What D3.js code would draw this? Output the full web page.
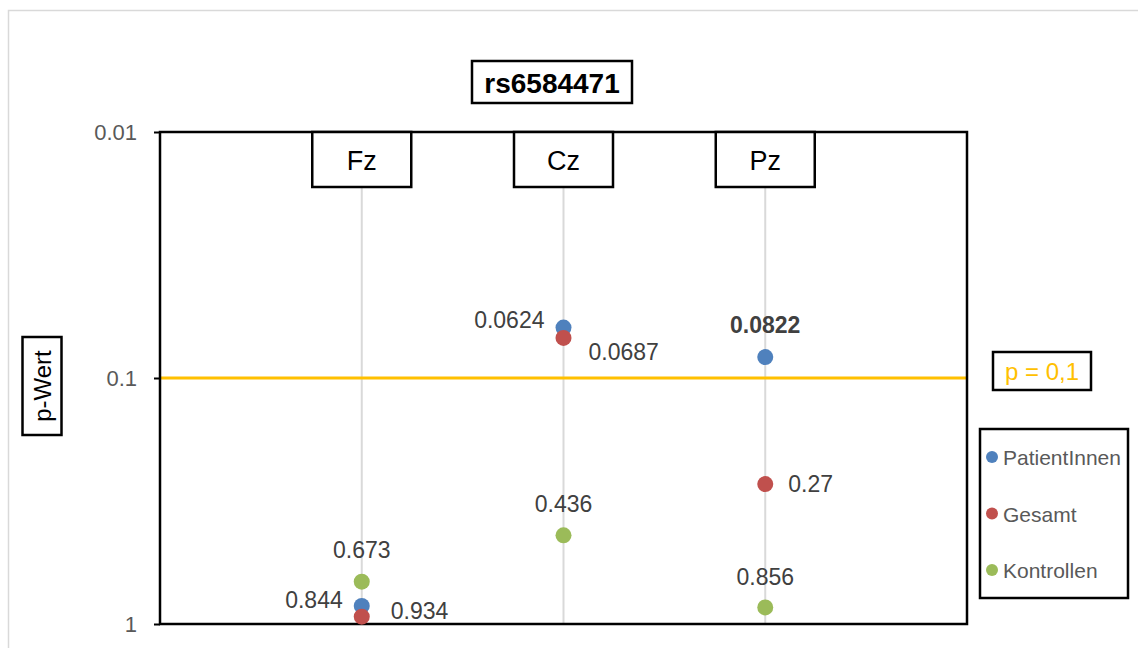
<!DOCTYPE html>
<html>
<head>
<meta charset="utf-8">
<script src="https://cdn.jsdelivr.net/npm/d3@7"></script>
<style>
  body { margin: 0; background: #fff; }
  svg { font-family: "Liberation Sans", Arial, sans-serif; }
</style>
</head>
<body>
<div class="draw-area"></div>
<script>
// Chart data
const electrodes = ["Fz", "Cz", "Pz"];
const seriesNames = ["PatientInnen", "Gesamt", "Kontrollen"];
const patientValues = [0.844, 0.0624, 0.0822];
const gesamtValues = [0.934, 0.0687, 0.27];
const kontrollenValues = [0.673, 0.436, 0.856];
const yTicks = [0.01, 0.1, 1];
const threshold = 0.1;

// Which labels are bold, [series][electrode]
const boldLabels = [[false, false, true], [false, false, false], [false, false, false]];

// Label offsets from the point [dx, dy, anchor], [series][electrode]
const labelOffsets = [
    [[-19, 2, "end"], [-19, 0, "end"], [0, -24, "middle"]],
    [[29, 2, "start"], [25, 22, "start"], [23, 8, "start"]],
    [[0, -24, "middle"], [0, -23, "middle"], [0, -22, "middle"]]
];

const colors = ["#4F81BD", "#C0504D", "#9BBB59"];
const width = 1138, height = 648;
const margin = { top: 132, right: 171, bottom: 24, left: 160 };

const svg = d3.select(".draw-area")
    .append("svg")
    .attr("width", width)
    .attr("height", height);

// Outer chart frame
svg.append("rect")
    .attr("x", 8.5).attr("y", 10.5)
    .attr("width", width + 20).attr("height", height + 20)
    .attr("fill", "none").attr("stroke", "#d9d9d9").attr("stroke-width", 1.5);

const x = d3.scalePoint()
    .domain(electrodes)
    .range([margin.left, width - margin.right])
    .padding(1);

const y = d3.scaleLog()
    .domain([0.01, 1])
    .range([margin.top, height - margin.bottom]);

const x0 = margin.left, x1 = width - margin.right;
const y0 = margin.top, y1 = height - margin.bottom;

// Vertical gray guide lines
svg.append("g").selectAll("line")
    .data(electrodes)
    .join("line")
    .attr("x1", d => x(d)).attr("x2", d => x(d))
    .attr("y1", y0 + 50).attr("y2", y1)
    .attr("stroke", "#d9d9d9").attr("stroke-width", 2);

// Threshold line
svg.append("line")
    .attr("x1", x0).attr("x2", x1)
    .attr("y1", y(threshold)).attr("y2", y(threshold))
    .attr("stroke", "#FFC000").attr("stroke-width", 3);

// Plot frame
svg.append("rect")
    .attr("x", x0).attr("y", y0)
    .attr("width", x1 - x0).attr("height", y1 - y0)
    .attr("fill", "none").attr("stroke", "#000").attr("stroke-width", 2.5);

// Y axis
const yAxis = svg.append("g")
    .attr("transform", `translate(${x0},0)`)
    .call(d3.axisLeft(y).tickValues(yTicks).tickFormat(d3.format("")).tickSize(6).tickPadding(17));
yAxis.select(".domain").remove();
yAxis.selectAll(".tick line").attr("stroke", "#000").attr("stroke-width", 2);
yAxis.selectAll(".tick text")
    .attr("fill", "#595959")
    .style("font-size", "22px")
    .style("font-family", "Liberation Sans, Arial, sans-serif");

// Category boxes
const catG = svg.append("g").selectAll("g")
    .data(electrodes)
    .join("g")
    .attr("transform", d => `translate(${x(d)},${y0})`);
catG.append("rect")
    .attr("x", -49.5).attr("y", 0)
    .attr("width", 99).attr("height", 55)
    .attr("fill", "#fff").attr("stroke", "#000").attr("stroke-width", 2.5);
catG.append("text")
    .attr("text-anchor", "middle")
    .attr("y", 38)
    .style("font-size", "27px")
    .text(d => d);

// Points and labels
const allSeries = [patientValues, gesamtValues, kontrollenValues];
const points = [];
allSeries.forEach((vals, s) => {
    vals.forEach((v, i) => points.push({ s, i, v, cat: electrodes[i] }));
});

// Kontrollen first, then PatientInnen, Gesamt on top
const drawOrder = [2, 0, 1];
drawOrder.forEach(s => {
    svg.append("g").selectAll("circle")
        .data(points.filter(p => p.s === s))
        .join("circle")
        .attr("cx", d => x(d.cat))
        .attr("cy", d => y(d.v))
        .attr("r", 8)
        .attr("fill", colors[s]);
});

svg.append("g").selectAll("text")
    .data(points)
    .join("text")
    .attr("x", d => x(d.cat) + labelOffsets[d.s][d.i][0])
    .attr("y", d => y(d.v) + labelOffsets[d.s][d.i][1])
    .attr("text-anchor", d => labelOffsets[d.s][d.i][2])
    .attr("fill", "#404040")
    .style("font-size", "23px")
    .style("font-weight", d => boldLabels[d.s][d.i] ? "bold" : "normal")
    .text(d => String(d.v));

// Title
const titleG = svg.append("g").attr("transform", "translate(552,82)");
titleG.append("rect")
    .attr("x", -80).attr("y", -21).attr("width", 160).attr("height", 42)
    .attr("fill", "#fff").attr("stroke", "#000").attr("stroke-width", 2.5);
titleG.append("text")
    .attr("text-anchor", "middle").attr("y", 11)
    .style("font-size", "28px").style("font-weight", "bold")
    .text("rs6584471");

// Y axis title
const yTitle = svg.append("g").attr("transform", "translate(42,386) rotate(-90)");
yTitle.append("rect")
    .attr("x", -49).attr("y", -19.5).attr("width", 98).attr("height", 39)
    .attr("fill", "#fff").attr("stroke", "#000").attr("stroke-width", 2.5);
yTitle.append("text")
    .attr("text-anchor", "middle").attr("y", 9)
    .style("font-size", "24px")
    .text("p-Wert");

// Threshold label
const thG = svg.append("g").attr("transform", "translate(1042,371)");
thG.append("rect")
    .attr("x", -49).attr("y", -19).attr("width", 98).attr("height", 38)
    .attr("fill", "#fff").attr("stroke", "#000").attr("stroke-width", 2.5);
thG.append("text")
    .attr("text-anchor", "middle").attr("y", 9)
    .attr("fill", "#FFC000")
    .style("font-size", "24px")
    .text("p = 0,1");

// Legend
const legend = svg.append("g").attr("transform", "translate(980,429)");
legend.append("rect")
    .attr("width", 148).attr("height", 169)
    .attr("fill", "#fff").attr("stroke", "#000").attr("stroke-width", 2.5);
const items = legend.selectAll("g.item")
    .data(seriesNames)
    .join("g")
    .attr("class", "item")
    .attr("transform", (d, i) => `translate(12,${28 + i * 56.5})`);
items.append("circle").attr("r", 6).attr("fill", (d, i) => colors[i]);
items.append("text")
    .attr("x", 11).attr("y", 8)
    .attr("fill", "#595959")
    .style("font-size", "21px")
    .text(d => d);
</script>
</body>
</html>
